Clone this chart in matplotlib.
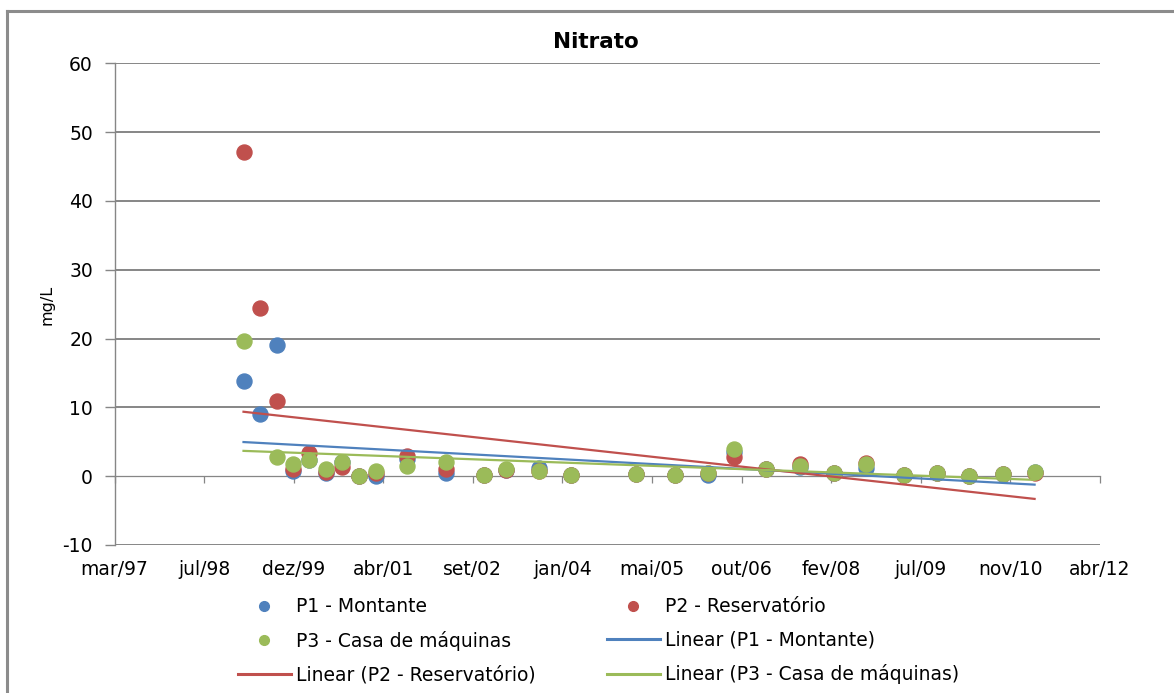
import numpy as np
import pandas as pd
import matplotlib
matplotlib.use("Agg")
import matplotlib.pyplot as plt
import matplotlib.dates as mdates
from matplotlib.lines import Line2D

plt.rcParams["axes.unicode_minus"] = False

# ---------------- data ----------------
dates = ["1999-03-03", "1999-06-03", "1999-09-07", "1999-12-06", "2000-03-02",
         "2000-06-04", "2000-09-05", "2000-12-07", "2001-03-10", "2001-09-02",
         "2002-04-04", "2002-11-04", "2003-03-06", "2003-09-06", "2004-03-03",
         "2005-03-02", "2005-10-03", "2006-04-05", "2006-09-02", "2007-02-26",
         "2007-09-04", "2008-03-08", "2008-09-04", "2009-04-04", "2009-10-07",
         "2010-04-04", "2010-10-08", "2011-04-04"]
p1_montante = [13.8, 9.0, 19.0, 0.7, 2.4, 0.4, 2.0, 0.0, 0.0, 2.5,
               0.5, 0.1, 0.9, 1.25, 0.1, 0.3, 0.15, 0.1, 3.5, 1.0,
               1.4, 0.4, 1.25, 0.15, 0.5, 0.05, 0.3, 0.6]
p2_reservatorio = [47.1, 24.5, 10.9, 1.1, 3.3, 0.6, 1.35, 0.0, 0.5, 2.9,
                   1.1, 0.1, 0.9, 0.8, 0.1, 0.3, 0.15, 0.5, 2.8, 1.0,
                   1.7, 0.4, 1.9, 0.15, 0.5, 0.05, 0.3, 0.5]
p3_casa_maquinas = [19.6, np.nan, 2.8, 1.7, 2.4, 1.1, 2.1, 0.0, 0.8, 1.5,
                    2.0, 0.1, 1.1, 0.8, 0.1, 0.3, 0.15, 0.5, 4.0, 1.0,
                    1.45, 0.4, 1.8, 0.15, 0.5, 0.05, 0.3, 0.6]
series_names = ["P1 - Montante", "P2 - Reservatório", "P3 - Casa de máquinas"]
colors = ["#4F81BD", "#C0504D", "#9BBB59"]
axis_start = "1997-03-13"
tick_step_days = 500
n_ticks = 12
y_ticks = [-10, 0, 10, 20, 30, 40, 50, 60]
meses = ["jan", "fev", "mar", "abr", "mai", "jun", "jul", "ago", "set", "out", "nov", "dez"]

# ---------------- figure ----------------
W, H = 1174, 693
fig = plt.figure(figsize=(W / 100, H / 100), dpi=100)
fig.patch.set_facecolor("white")
ax = fig.add_axes([114.5 / W, 1 - 545 / H, (1100 - 114.5) / W, (545 - 63.3) / H])

x = mdates.date2num(pd.to_datetime(dates))
grid_c = "#868686"
series = [p1_montante, p2_reservatorio, p3_casa_maquinas]
for vals, c in zip(series, colors):
    ax.plot(x, vals, linestyle="none", marker="o", markersize=10.8,
            markerfacecolor=c, markeredgecolor=c, zorder=3)

# linear trend lines (least squares over each series' data range)
for vals, c in zip(series, colors):
    v = np.array(vals, dtype=float)
    m = ~np.isnan(v)
    k, b = np.polyfit(x[m], v[m], 1)
    xx = np.array([x[m].min(), x[m].max()])
    ax.plot(xx, k * xx + b, color=c, lw=1.6, zorder=4)

start = mdates.date2num(pd.Timestamp(axis_start))
xticks = [start + i * tick_step_days for i in range(n_ticks)]
ax.set_xlim(xticks[0], xticks[-1])
ax.set_ylim(-10, 60)
ax.set_yticks(y_ticks)

# horizontal gridlines (the zero line is the category axis itself)
for yv in y_ticks:
    if yv != 0:
        ax.axhline(yv, color=grid_c, lw=1.4, zorder=1)

def fmt(v, pos=None):
    d = mdates.num2date(v)
    return f"{meses[d.month - 1]}/{d.year % 100:02d}"

# x axis drawn at y = 0, labels at the bottom
ax.spines["bottom"].set_position(("data", 0))
ax.spines["bottom"].set_color(grid_c)
ax.spines["bottom"].set_linewidth(0.9)
ax.set_xticks(xticks)
ax.tick_params(axis="x", direction="out", length=5, width=0.9, color=grid_c,
               labelbottom=False)
sec = ax.secondary_xaxis(0.0)
sec.set_xticks(xticks)
sec.xaxis.set_major_formatter(plt.FuncFormatter(fmt))
sec.tick_params(axis="x", length=0, pad=11, labelsize=13.5)
sec.spines["bottom"].set_visible(False)

ax.spines["top"].set_visible(False)
ax.spines["right"].set_visible(False)
ax.spines["left"].set_color(grid_c)
ax.spines["left"].set_linewidth(1.0)
ax.tick_params(axis="y", direction="out", length=7.5, width=1.0, color=grid_c,
               pad=8, labelsize=13.5)

fig.text(595.5 / W, 1 - 42.3 / H, "Nitrato", ha="center", va="center",
         fontsize=15.5, fontweight="bold")
fig.text(46.7 / W, 1 - 305 / H, "mg/L", ha="center", va="center",
         rotation=90, fontsize=11.5)

# legend (row-major order by reordering for column filling)
h = {}
for name, c in zip(series_names, colors):
    h[name] = Line2D([], [], linestyle="none", marker="o", markersize=7,
                     markerfacecolor=c, markeredgecolor=c)
    h["Linear (" + name + ")"] = Line2D([], [], color=c, lw=2.2)
order = ["P1 - Montante", "P3 - Casa de máquinas", "Linear (P2 - Reservatório)",
         "P2 - Reservatório", "Linear (P1 - Montante)", "Linear (P3 - Casa de máquinas)"]
fig.legend([h[k] for k in order], order, ncol=2, frameon=False,
           loc="upper left", bbox_to_anchor=(238 / W, 1 - 597.5 / H),
           borderpad=0, borderaxespad=0, fontsize=13.5, handlelength=2.8,
           handletextpad=0.27, columnspacing=3.83, labelspacing=0.77)

# outer chart frame
fig.add_artist(Line2D([7 / W, 7 / W], [0, 1 - 11 / H], transform=fig.transFigure,
                      color="#8c8c8c", lw=2.2))
fig.add_artist(Line2D([7 / W, 1], [1 - 11 / H, 1 - 11 / H], transform=fig.transFigure,
                      color="#8c8c8c", lw=2.2))

fig.savefig("out.png", dpi=100)
